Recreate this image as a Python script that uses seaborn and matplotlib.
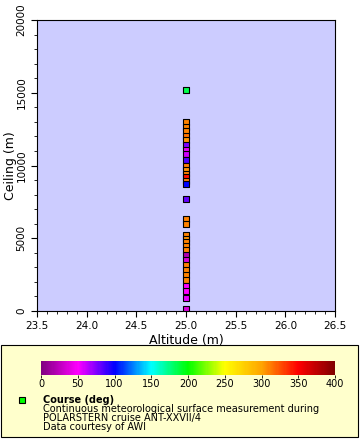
import matplotlib
matplotlib.use("Agg")
import matplotlib.pyplot as plt
import seaborn as sns
import numpy as np
import pandas as pd
from matplotlib.colors import LinearSegmentedColormap, Normalize
from matplotlib.ticker import MultipleLocator
from matplotlib.patches import Rectangle

# data
altitude = [25.0] * 34
ceiling = [15190, 12970, 12670, 12370, 12050, 11750, 11410, 11100, 10800,
           10380, 9970, 9690, 9400, 9190, 8950, 8730, 7680, 6300, 6000,
           5220, 4950, 4760, 4490, 4190, 3830, 3510, 3170, 2820, 2480,
           2130, 1720, 1400, 890, 140]
course = [185, 310, 310, 310, 315, 305, 75, 55, 60,
          85, 310, 305, 310, 345, 310, 100, 80, 310, 310,
          310, 305, 310, 310, 310, 20, 35, 310, 310, 310,
          310, 50, 50, 55, 35]
cbar_ticks = [0, 50, 100, 150, 200, 250, 300, 350, 400]

df = pd.DataFrame({"Altitude": altitude, "Ceiling": ceiling, "Course": course})

cmap = LinearSegmentedColormap.from_list(
    "erd", [(0, "#800080"), (0.125, "#ff00ff"), (0.25, "#0000ff"),
            (0.375, "#00ffff"), (0.5, "#00ff00"), (0.625, "#ffff00"),
            (0.75, "#ffa500"), (0.875, "#ff0000"), (1.0, "#800000")])
norm = Normalize(0, 400)

sns.set_style("ticks")
plt.rcParams["font.family"] = ["DejaVu Sans"]
plt.rcParams.update({"text.color": "black", "axes.labelcolor": "black",
                     "xtick.color": "black", "ytick.color": "black",
                     "axes.edgecolor": "black"})

fig = plt.figure(figsize=(3.6, 4.4), dpi=100)
ax = fig.add_axes([37 / 360, 1 - 311 / 440, 298 / 360, 291 / 440])
ax.set_facecolor("#ccccff")

sns.scatterplot(data=df, x="Altitude", y="Ceiling", hue="Course",
                palette=cmap, hue_norm=norm, marker="s", s=18,
                edgecolor="black", linewidth=0.8, legend=False, ax=ax)

ax.set_xlim(23.5, 26.5)
ax.set_ylim(0, 20000)
ax.xaxis.set_major_locator(MultipleLocator(0.5))
ax.xaxis.set_minor_locator(MultipleLocator(0.1))
ax.yaxis.set_major_locator(MultipleLocator(5000))
ax.yaxis.set_minor_locator(MultipleLocator(1000))
ax.tick_params(labelsize=7.5, length=4, width=0.8, direction="out")
ax.tick_params(which="minor", length=2, width=0.6)
for lbl in ax.get_yticklabels():
    lbl.set_rotation(90)
    lbl.set_va("center")
ax.set_xlabel("Altitude (m)", fontsize=9, labelpad=2)
ax.set_ylabel("Ceiling (m)", fontsize=9, labelpad=0)
for sp in ax.spines.values():
    sp.set_linewidth(0.8)

# legend box
fig.patches.append(Rectangle((1 / 360, 3 / 440), 357 / 360, 92 / 440,
                             transform=fig.transFigure, facecolor="#ffffcc",
                             edgecolor="black", linewidth=0.8, zorder=-1))

cax = fig.add_axes([41 / 360, 1 - 375 / 440, 294 / 360, 14 / 440])
cb = fig.colorbar(plt.cm.ScalarMappable(norm=norm, cmap=cmap), cax=cax,
                  orientation="horizontal", ticks=cbar_ticks)
cb.outline.set_visible(False)
cax.tick_params(labelsize=7, length=2, width=0.6, pad=1)

fig.patches.append(Rectangle((19 / 360, 1 - 403 / 440), 6 / 360, 6 / 440,
                             transform=fig.transFigure, facecolor="#00ff00",
                             edgecolor="black", linewidth=0.8))
fig.text(43 / 360, 1 - 400 / 440, "Course (deg)", fontsize=7,
         fontweight="bold", va="center")
lines = ["Continuous meteorological surface measurement during",
         "POLARSTERN cruise ANT-XXVII/4", "Data courtesy of AWI"]
for i, t in enumerate(lines):
    fig.text(43 / 360, 1 - (409 + 9 * i) / 440, t, fontsize=7, va="center")

fig.savefig("out.png", dpi=100)
